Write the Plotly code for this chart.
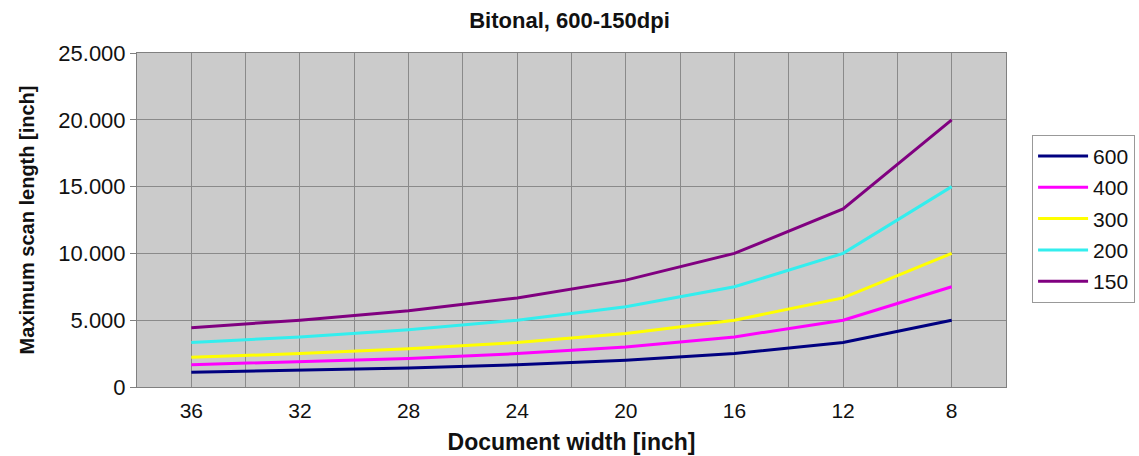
import plotly.graph_objects as go

widths = [36, 32, 28, 24, 20, 16, 12, 8]
series_names = ["600", "400", "300", "200", "150"]
v600 = [1100, 1250, 1430, 1670, 2000, 2500, 3330, 5000]
v400 = [1670, 1880, 2140, 2500, 3000, 3750, 5000, 7500]
v300 = [2220, 2500, 2860, 3330, 4000, 5000, 6670, 10000]
v200 = [3330, 3750, 4290, 5000, 6000, 7500, 10000, 15000]
v150 = [4440, 5000, 5710, 6670, 8000, 10000, 13330, 20000]
series_values = [v600, v400, v300, v200, v150]
colors = ["#000080", "#FF00FF", "#FFFF00", "#33EEEE", "#800080"]
x_ticks = [36, 32, 28, 24, 20, 16, 12, 8]
y_ticks = [0, 5000, 10000, 15000, 20000, 25000]

fig = go.Figure()
for name, vals, col in zip(series_names, series_values, colors):
    fig.add_trace(go.Scatter(x=widths, y=vals, name=name, mode="lines",
                             line=dict(color=col, width=3), legendgroup=name))

font = "Liberation Sans, Arial, sans-serif"
fig.update_layout(
    width=1139, height=456,
    margin=dict(l=137, r=133, t=53, b=69, autoexpand=False),
    paper_bgcolor="white", plot_bgcolor="#CBCBCB",
    separators=",.",
    font=dict(family=font, size=22, color="#111111"),
    title=dict(text="<b>Bitonal, 600-150dpi</b>", x=0.5, xanchor="center",
               y=0.955, yanchor="middle", font=dict(size=22)),
    legend=dict(x=1.030, xanchor="left", y=0.755, yanchor="top",
                bordercolor="#999999", borderwidth=1, bgcolor="white",
                font=dict(size=21), tracegroupgap=1, itemwidth=50),
    showlegend=True,
)
fig.update_xaxes(range=[38, 6], tickvals=x_ticks, ticks="", showgrid=True,
                 gridcolor="#8A8A8A", gridwidth=1,
                 minor=dict(dtick=2, tick0=0, showgrid=True, gridcolor="#8A8A8A", gridwidth=1),
                 showline=True, linecolor="#808080", linewidth=1, mirror=True,
                 zeroline=False, ticklabelstandoff=5, tickfont=dict(size=21),
                 title=dict(text="<b>Document width [inch]</b>", font=dict(size=23), standoff=12))
fig.update_yaxes(range=[0, 25000], tickvals=y_ticks, tickformat=",d", ticks="outside",
                 ticklen=6, tickcolor="#808080", showgrid=True, gridcolor="#8A8A8A",
                 gridwidth=1, showline=True, linecolor="#808080", linewidth=1, mirror=True,
                 zeroline=False, tickfont=dict(size=22),
                 title=dict(text="<b>Maximum scan length [inch]</b>", font=dict(size=20), standoff=18))

fig.write_html("out.html", config={"displayModeBar": False},
               post_script="document.body.style.margin='0';")
